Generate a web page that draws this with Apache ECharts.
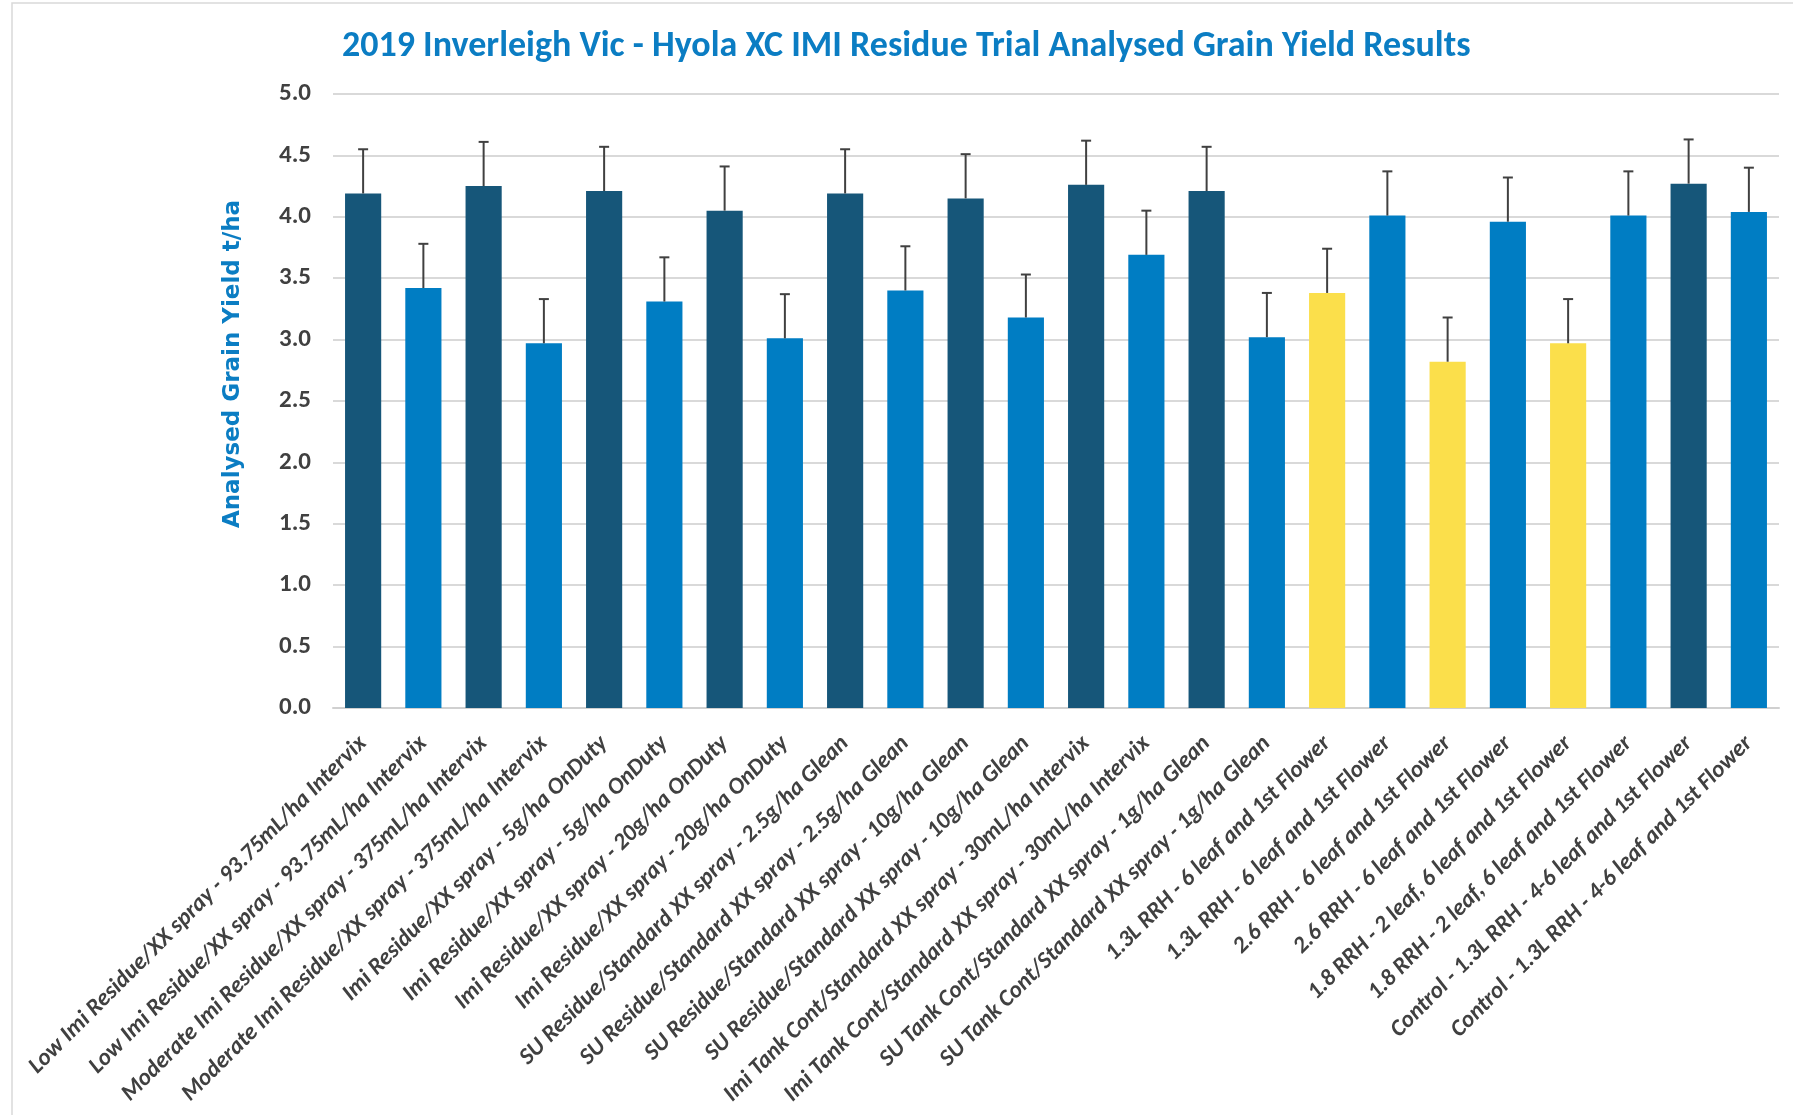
<!DOCTYPE html>
<html>
<head>
<meta charset="utf-8">
<title>Hyola XC IMI Residue Trial</title>
<script src="https://cdn.jsdelivr.net/npm/echarts@6/dist/echarts.min.js"></script>
<style>
  html, body { margin: 0; padding: 0; background: #fff; }
  #chart { width: 1793px; height: 1115px; }
</style>
</head>
<body>
<div id="chart"></div>
<script>
var myChart = echarts.init(document.getElementById('chart'));

// treatments, in plot order
const treatments = [
  'Low Imi Residue/XX spray - 93.75mL/ha Intervix',
  'Low Imi Residue/XX spray - 93.75mL/ha Intervix',
  'Moderate Imi Residue/XX spray - 375mL/ha Intervix',
  'Moderate Imi Residue/XX spray - 375mL/ha Intervix',
  'Imi Residue/XX spray - 5g/ha OnDuty',
  'Imi Residue/XX spray - 5g/ha OnDuty',
  'Imi Residue/XX spray - 20g/ha OnDuty',
  'Imi Residue/XX spray - 20g/ha OnDuty',
  'SU Residue/Standard XX spray - 2.5g/ha Glean',
  'SU Residue/Standard XX spray - 2.5g/ha Glean',
  'SU Residue/Standard XX spray - 10g/ha Glean',
  'SU Residue/Standard XX spray - 10g/ha Glean',
  'Imi Tank Cont/Standard XX spray - 30mL/ha Intervix',
  'Imi Tank Cont/Standard XX spray - 30mL/ha Intervix',
  'SU Tank Cont/Standard XX spray - 1g/ha Glean',
  'SU Tank Cont/Standard XX spray - 1g/ha Glean',
  '1.3L RRH - 6 leaf and 1st Flower',
  '1.3L RRH - 6 leaf and 1st Flower',
  '2.6 RRH - 6 leaf and 1st Flower',
  '2.6 RRH - 6 leaf and 1st Flower',
  '1.8 RRH - 2 leaf, 6 leaf and 1st Flower',
  '1.8 RRH - 2 leaf, 6 leaf and 1st Flower',
  'Control - 1.3L RRH - 4-6 leaf and 1st Flower',
  'Control - 1.3L RRH - 4-6 leaf and 1st Flower'
];

// analysed grain yield, t/ha
const grainYield = [
  4.19, 3.42, 4.25, 2.97, 4.21, 3.31, 4.05, 3.01,
  4.19, 3.40, 4.15, 3.18, 4.26, 3.69, 4.21, 3.02,
  3.38, 4.01, 2.82, 3.96, 2.97, 4.01, 4.27, 4.04
];

// upper error bar size, t/ha
const errorPlus = [
  0.36, 0.36, 0.36, 0.36, 0.36, 0.36, 0.36, 0.36,
  0.36, 0.36, 0.36, 0.35, 0.36, 0.36, 0.36, 0.36,
  0.36, 0.36, 0.36, 0.36, 0.36, 0.36, 0.36, 0.36
];

// bar group (colour key)
const barGroup = [
  'dark', 'blue', 'dark', 'blue', 'dark', 'blue', 'dark', 'blue',
  'dark', 'blue', 'dark', 'blue', 'dark', 'blue', 'dark', 'blue',
  'yellow', 'blue', 'yellow', 'blue', 'yellow', 'blue', 'dark', 'blue'
];

const yTicks = ['0.0', '0.5', '1.0', '1.5', '2.0', '2.5', '3.0', '3.5', '4.0', '4.5', '5.0'];

const groupColors = { dark: '#165679', blue: '#007dc3', yellow: '#fbdf4b' };
const narrow = "'Liberation Sans Narrow', Carlito, Lato, 'Noto Sans', sans-serif";

var option = {
  backgroundColor: '#fff',
  title: {
    text: '2019 Inverleigh Vic - Hyola XC IMI Residue Trial Analysed Grain Yield Results',
    left: 337,
    top: 24,
    textStyle: {
      color: '#0b7dc3',
      fontFamily: narrow,
      fontWeight: 'bold',
      fontSize: 36
    }
  },
  graphic: [
    {
      type: 'rect',
      shape: { x: 12, y: 3, width: 1900, height: 1300 },
      style: { fill: null, stroke: '#d9d9d9', lineWidth: 1.5 },
      silent: true
    }
  ],
  grid: {
    left: 333,
    right: 14,
    top: 94,
    bottom: 407
  },
  xAxis: {
    type: 'category',
    data: treatments,
    axisTick: { show: false },
    axisLine: { lineStyle: { color: '#d0d0d0', width: 2 } },
    axisLabel: {
      rotate: 45,
      interval: 0,
      margin: 32,
      color: '#404040',
      fontFamily: narrow,
      fontWeight: 'bold',
      fontStyle: 'italic',
      fontSize: 23.5
    }
  },
  yAxis: {
    type: 'value',
    min: 0,
    max: 5,
    interval: 0.5,
    name: 'Analysed Grain Yield t/ha',
    nameLocation: 'middle',
    nameGap: 88,
    nameTextStyle: {
      color: '#0b7dc3',
      fontFamily: "'DejaVu Sans', Verdana, sans-serif",
      fontWeight: 'bold',
      fontSize: 23,
      padding: [0, 0, 0, 74]
    },
    axisLine: { show: false },
    axisTick: { show: false },
    splitLine: { lineStyle: { color: '#d9d9d9', width: 2 } },
    axisLabel: {
      margin: 22,
      color: '#404040',
      fontFamily: narrow,
      fontWeight: 'bold',
      fontSize: 25,
      formatter: function (v) {
        return yTicks[Math.round(v / 0.5)];
      }
    }
  },
  series: [
    {
      type: 'bar',
      barCategoryGap: '40%',
      data: grainYield.map(function (v, i) {
        return { value: v, itemStyle: { color: groupColors[barGroup[i]] } };
      }),
      z: 2
    },
    {
      type: 'custom',
      z: 3,
      data: grainYield.map(function (v, i) {
        return [i, v, v + errorPlus[i]];
      }),
      renderItem: function (params, api) {
        var base = api.coord([api.value(0), api.value(1)]);
        var top = api.coord([api.value(0), api.value(2)]);
        var capHalf = 5;
        var style = { stroke: '#404040', lineWidth: 2 };
        return {
          type: 'group',
          children: [
            { type: 'line', shape: { x1: base[0], y1: base[1], x2: top[0], y2: top[1] }, style: style },
            { type: 'line', shape: { x1: top[0] - capHalf, y1: top[1], x2: top[0] + capHalf, y2: top[1] }, style: style }
          ]
        };
      }
    }
  ]
};

myChart.setOption(option);
</script>
</body>
</html>
